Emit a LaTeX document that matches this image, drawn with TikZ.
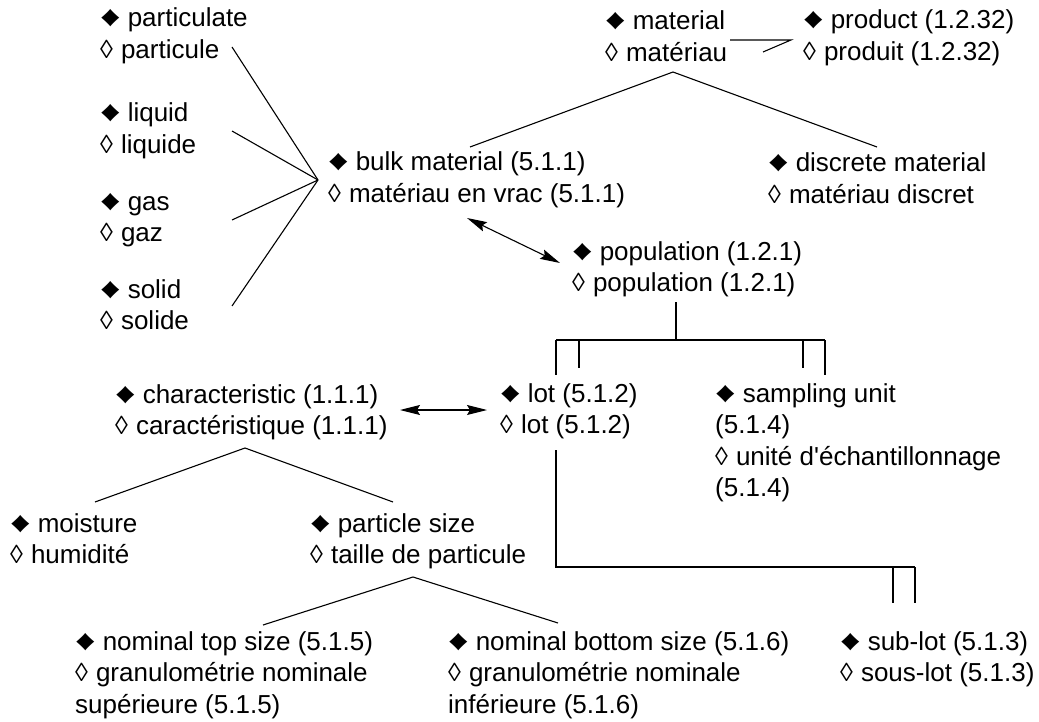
\documentclass[tikz,border=0pt]{standalone}
\usepackage{fontspec}
\usepackage{graphicx}
\setmainfont{Liberation Sans}
\usetikzlibrary{arrows.meta}
% English / French term markers
\newcommand{\enmk}{\scalebox{1.55}[1.1]{♦}\hspace{7pt}}
\newcommand{\frmk}{◊\hspace{8pt}}
\begin{document}
\begin{tikzpicture}[x=1pt,y=-1pt,
  term/.style={align=left, inner sep=0pt, anchor=base west,
    font=\fontsize{26}{31.5}\selectfont},
  link/.style={line width=1.1pt, line join=miter},
  assoc/.style={line width=1.1pt,
    {Stealth[length=20pt,width=10pt,inset=3pt]}-{Stealth[length=20pt,width=10pt,inset=3pt]}}]
\useasboundingbox (0,0) rectangle (1039,722);

% terms: English (filled diamond) / French (open diamond);
% each node sits on the baseline of its last line
\node[term] (particulate) at (100,58.5)  {\enmk particulate\\\frmk particule};
\node[term] (liquid)      at (100,153.5) {\enmk liquid\\\frmk liquide};
\node[term] (gas)         at (100,241.5) {\enmk gas\\\frmk gaz};
\node[term] (solid)       at (100,329.5) {\enmk solid\\\frmk solide};
\node[term] (bulk)        at (328,202.5) {\enmk bulk material (5.1.1)\\\frmk matériau en vrac (5.1.1)};
\node[term] (material)    at (605,61.5)  {\enmk material\\\frmk matériau};
\node[term] (product)     at (803,60.5)  {\enmk product (1.2.32)\\\frmk produit (1.2.32)};
\node[term] (discrete)    at (768,203.5) {\enmk discrete material\\\frmk matériau discret};
\node[term] (population)  at (572,291.5) {\enmk population (1.2.1)\\\frmk population (1.2.1)};
\node[term] (charact)     at (115,434.5) {\enmk characteristic (1.1.1)\\\frmk caractéristique (1.1.1)};
\node[term] (lot)         at (500,433.5) {\enmk lot (5.1.2)\\\frmk lot (5.1.2)};
\node[term] (sampling)    at (715,496.5) {\enmk sampling unit\\(5.1.4)\\\frmk unité d\textquotesingle échantillonnage\\(5.1.4)};
\node[term] (moisture)    at (10,563.5)  {\enmk moisture\\\frmk humidité};
\node[term] (psize)       at (310,563.5) {\enmk particle size\\\frmk taille de particule};
\node[term] (topsize)     at (75,713)    {\enmk nominal top size (5.1.5)\\\frmk granulométrie nominale\\supérieure (5.1.5)};
\node[term] (botsize)     at (448,713)   {\enmk nominal bottom size (5.1.6)\\\frmk granulométrie nominale\\inférieure (5.1.6)};
\node[term] (sublot)      at (840,681.5) {\enmk sub-lot (5.1.3)\\\frmk sous-lot (5.1.3)};

% attachment points
\coordinate (fan)      at (318,180);
\coordinate (partEnd)  at (232,47);
\coordinate (liqEnd)   at (232,131);
\coordinate (gasEnd)   at (232,220);
\coordinate (solEnd)   at (232,306);
\coordinate (matTop)   at (673,72);
\coordinate (bulkIn)   at (470,147);
\coordinate (discIn)   at (877,147);
\coordinate (matOut)   at (730,40);
\coordinate (prodTip)  at (791,40);
\coordinate (prodLow)  at (763,52);
\coordinate (bulkArr)  at (467,218);
\coordinate (popArr)   at (560,263);
\coordinate (popStem)  at (676,302);
\coordinate (popBar)   at (676,340);
\coordinate (barL)     at (556,340);
\coordinate (barLi)    at (579,340);
\coordinate (barRi)    at (803,340);
\coordinate (barR)     at (825,340);
\coordinate (lotStem)  at (556,450);
\coordinate (lotCorner) at (556,567);
\coordinate (subBarL)  at (893,567);
\coordinate (subBarR)  at (915,567);
\coordinate (charArr)  at (400,410);
\coordinate (lotArr)   at (487,410);
\coordinate (charTop)  at (245,448);
\coordinate (moistIn)  at (95,502);
\coordinate (psizeIn)  at (393,502);
\coordinate (psTop)    at (413,577);
\coordinate (topIn)    at (263,625);
\coordinate (botIn)    at (558,623);

% material states converge on bulk material
\draw[link] (partEnd) -- (fan);
\draw[link] (liqEnd) -- (fan);
\draw[link] (gasEnd) -- (fan);
\draw[link] (solEnd) -- (fan);

% material splits into bulk and discrete
\draw[link] (bulkIn) -- (matTop) -- (discIn);
\draw[link] (matOut) -- (prodTip) -- (prodLow);

% associative relations
\draw[assoc] (bulkArr) -- (popArr);
\draw[assoc] (charArr) -- (lotArr);

% population: partitive bracket to lot and sampling unit
\draw[link] (popStem) -- (popBar);
\draw[link] (barL) -- (barR);
\draw[link] (barL) -- ++(0,35);
\draw[link] (barLi) -- ++(0,28);
\draw[link] (barRi) -- ++(0,28);
\draw[link] (barR) -- ++(0,35);

% lot: partitive bracket to sub-lot
\draw[link] (lotStem) -- (lotCorner) -- (subBarR);
\draw[link] (subBarL) -- ++(0,36);
\draw[link] (subBarR) -- ++(0,36);

% characteristic tree
\draw[link] (moistIn) -- (charTop) -- (psizeIn);
\draw[link] (topIn) -- (psTop) -- (botIn);
\end{tikzpicture}
\end{document}
